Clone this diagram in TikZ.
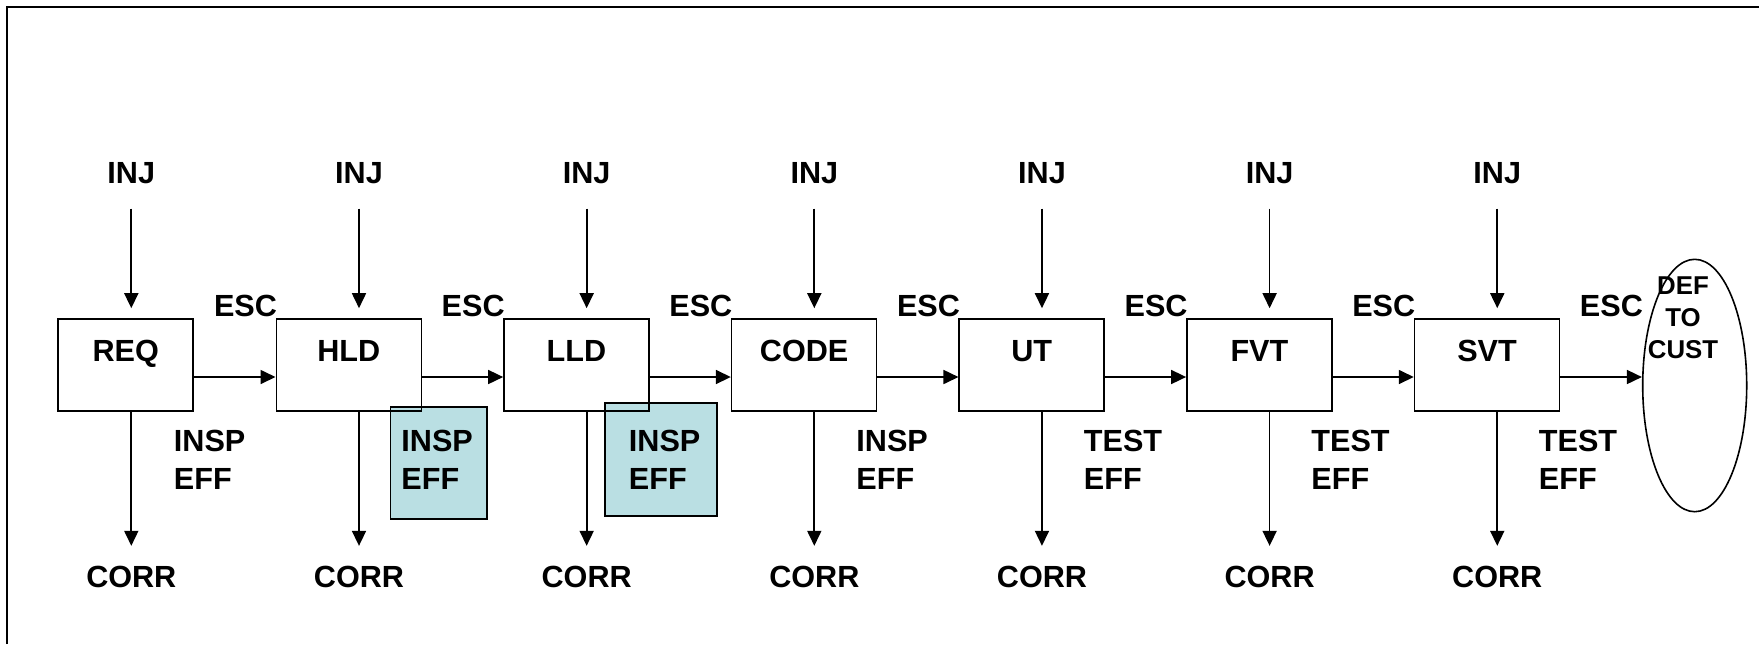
\documentclass[tikz,border=0pt]{standalone}
\usepackage{fontspec}
\setmainfont{Liberation Sans}
\usetikzlibrary{arrows.meta,shapes.geometric}
\definecolor{tealfill}{RGB}{186,223,227}
\begin{document}
\begin{tikzpicture}[x=0.5pt,y=-0.5pt,
  lbl/.style={font=\fontsize{15.3}{19.25}\selectfont\bfseries, inner sep=0pt},
  small/.style={font=\fontsize{12.9}{15.9}\selectfont\bfseries, inner sep=0pt},
  stage/.style={draw, line width=0.8pt, minimum width=72.5pt, minimum height=46pt,
    inner sep=0pt, text height=21pt, text depth=25pt,
    font=\fontsize{15.3}{19.25}\selectfont\bfseries},
  effbox/.style={draw, line width=0.9pt, fill=tealfill, inner sep=0pt},
  arr/.style={line width=0.85pt, -{Triangle[length=7.5pt,width=7pt]}}]
\useasboundingbox (0,0) rectangle (1759,644);
% frame
\draw[line width=1pt] (6.5,644) -- (6.5,7) -- (1759,7);
% teal highlight boxes
\node[effbox, minimum width=48.25pt, minimum height=56.2pt] (hl1) at (438.75,462.8) {};
\node[effbox, minimum width=56pt, minimum height=56.2pt] (hl2) at (661,459.5) {};
% stages
\node[stage, minimum width=67.5pt] (s0) at (125.75,365) {REQ};
\foreach \n [count=\k] in {HLD,LLD,CODE,UT,FVT,SVT}
  \node[stage] (s\k) at ({348.8+227.65*(\k-1)},365) {\n};
% customer ellipse
\node[draw, ellipse, line width=0.8pt, minimum width=52pt, minimum height=126.2pt, inner sep=0pt] (def) at (1694.7,385.5) {};
\node[small, anchor=north, align=center] (deftxt) at (1683,276.7) {DEF\\TO\\CUST};
% INJ and CORR labels
\node[lbl, anchor=base] (inj0) at (131.3,183) {INJ};
\node[lbl, anchor=base] (corr0) at (131.3,587) {CORR};
\foreach \k in {1,...,6} {
  \node[lbl, anchor=base] (inj\k) at ({359+227.65*(\k-1)},183) {INJ};
  \node[lbl, anchor=base] (corr\k) at ({359+227.65*(\k-1)},587) {CORR};
}
% ESC labels
\foreach \k in {0,...,6}
  \node[lbl, anchor=base] (esc\k) at ({245.5+227.65*\k},316.5) {ESC};
% effectiveness labels
\foreach \w [count=\k from 0] in {INSP,INSP,INSP,INSP,TEST,TEST,TEST}
  \node[lbl, anchor=north west, align=left] (eff\k) at ({173.5+227.5*\k},429.5) {\w\\EFF};
% vertical arrows
\foreach \k in {0,...,6} {
  \draw[arr, shorten <=12.5pt, shorten >=5pt] (inj\k.south) -- (inj\k.south |- s\k.north);
  \draw[arr, shorten >=9.7pt] (s\k.south -| corr\k.north) -- (corr\k.north);
}
% horizontal arrows
\foreach \k [evaluate=\k as \j using int(\k+1)] in {0,...,5}
  \draw[arr] ([yshift=-6pt]s\k.east) -- ([yshift=-6pt]s\j.west);
\draw[arr] ([yshift=-6pt]s6.east) -- ([yshift=-6pt]s6.east -| def.west);
\end{tikzpicture}
\end{document}
